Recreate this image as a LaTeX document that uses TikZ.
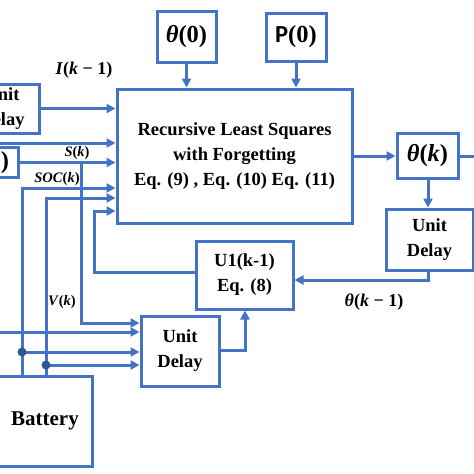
\documentclass[tikz,border=0pt]{standalone}
\usepackage{fontspec}
\setmainfont{Liberation Serif}
\newfontfamily\calib{Carlito}
\usetikzlibrary{arrows.meta}
\definecolor{lineblue}{RGB}{68,114,196}
\definecolor{dotblue}{RGB}{47,85,151}
\newcommand{\vi}[1]{\textit{#1}}
\begin{document}
\begin{tikzpicture}[x=1pt,y=-1pt,
  blk/.style={draw=lineblue, line width=3pt, fill=white, inner sep=0pt, align=center,
    font=\bfseries\fontsize{18.5}{25}\selectfont},
  mathblk/.style={blk, font=\bfseries\fontsize{24.5}{26}\selectfont},
  conn/.style={draw=lineblue, line width=3pt, -{Triangle[length=9pt,width=9pt]}},
  wire/.style={draw=lineblue, line width=3pt},
  lbl/.style={inner sep=0pt, font=\bfseries\fontsize{14.5}{16}\selectfont},
  lblbig/.style={inner sep=0pt, font=\bfseries\fontsize{18}{18}\selectfont},
  jdot/.style={fill=dotblue}]
\useasboundingbox (0,0) rectangle (474,474);
\clip (0,0) rectangle (474,474);
\fill[white] (0,0) rectangle (474,474);

% blocks
\node[blk, minimum width=235pt, minimum height=134pt] (rls) at (234.5,156)
  {Recursive Least Squares\\with Forgetting\\Eq. (9) , Eq. (10) Eq. (11)};
\node[mathblk, minimum width=59pt, minimum height=51pt] (th0) at (186.5,36.5) {\vi{θ}(0)};
\node[mathblk, minimum width=60pt, minimum height=48pt] (p0) at (296,37) {{\calib P}(0)};
\node[mathblk, minimum width=61pt, minimum height=45pt] (thk) at (427.5,156) {\vi{θ}(\vi{k})};
\node[blk, minimum width=87pt, minimum height=61pt] (udr) at (429.5,239.5) {Unit\\Delay};
\node[blk, minimum width=97pt, minimum height=68pt] (u1) at (244.5,275) {U1(k-1)\\Eq. (8)};
\node[blk, minimum width=78pt, minimum height=70pt] (ud2) at (180,351) {Unit\\Delay};
\node[blk, minimum width=94pt, minimum height=90pt, font=\bfseries\fontsize{21}{25}\selectfont] (bat) at (45,421) {Battery};
\node[blk, minimum width=74pt, minimum height=49pt] (udl) at (2,108.5) {Unit\\Delay};
\node[mathblk, minimum width=60pt, minimum height=30pt] (s0) at (-12,162.5) {\vi{S}(0)};

% helper coordinates
\coordinate (in2) at (-6,143);
\coordinate (sk) at (81,162.5);
\coordinate (vk1) at (81,323);
\coordinate (soc) at (22,188);
\coordinate (vv) at (46,198);
\coordinate (d1) at (22,352);
\coordinate (d2) at (46,365);
\coordinate (in5) at (-6,332);
\coordinate (fbl) at (94,272);
\coordinate (fb) at (94,211);
\coordinate (o2) at (245,350);
\coordinate (b1) at (428,280);
\coordinate (rightend) at (480,156);

% connectors
\draw[conn] (th0.south) -- (th0.south |- rls.north);
\draw[conn] (p0.south) -- (p0.south |- rls.north);
\draw[conn] (rls.east |- thk) -- (thk.west);
\draw[wire] (thk.east) -- (rightend);
\draw[conn] (b1 |- thk.south) -- (b1 |- udr.north);
\draw[conn] (b1 |- udr.south) |- (u1.east |- b1);

\draw[conn] (udl.east) -- (rls.west |- udl.east);
\draw[conn] (in2) -- (rls.west |- in2);
\draw[conn] (s0.east |- sk) -- (rls.west |- sk);
\draw[conn] (sk) -- (vk1) -- (ud2.west |- vk1);
\draw[conn] (bat.north -| soc) -- (soc) -- (rls.west |- soc);
\draw[conn] (bat.north -| vv) -- (vv) -- (rls.west |- vv);
\draw[conn] (in5) -- (ud2.west |- in5);
\draw[conn] (d1) -- (ud2.west |- d1);
\draw[conn] (d2) -- (ud2.west |- d2);
\fill[jdot] (d1) circle (4.5pt);
\fill[jdot] (d2) circle (4.5pt);
\draw[conn] (u1.west |- fbl) -- (fbl) -- (fb) -- (rls.west |- fb);
\draw[conn] (ud2.east |- o2) -- (o2) -- (u1.south -| o2);

% labels
\node[lblbig] (lI) at (84,70) {\vi{I}(\vi{k} − 1)};
\node[lbl] (lS) at (77,153) {\vi{S}(\vi{k})};
\node[lbl] (lSOC) at (57,179) {\vi{SOC}(\vi{k})};
\node[lbl] (lV) at (62,302) {\vi{V}(\vi{k})};
\node[lblbig] (lth) at (374,302) {\vi{θ}(\vi{k} − 1)};
\end{tikzpicture}
\end{document}
